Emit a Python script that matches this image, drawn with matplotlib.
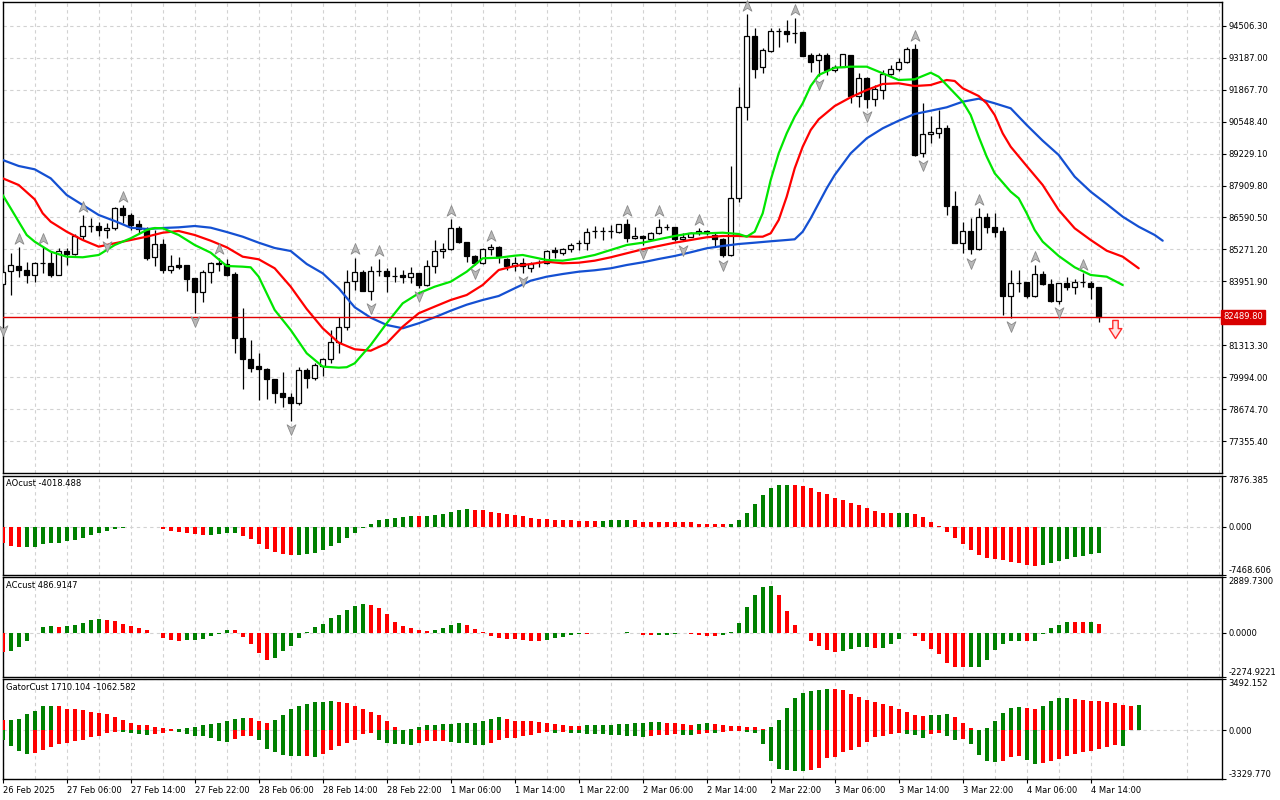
import matplotlib
matplotlib.use('Agg')
import matplotlib.pyplot as plt
import numpy as np
from matplotlib.path import Path
from matplotlib.transforms import offset_copy, blended_transform_factory

plt.rcParams['font.family'] = ['DejaVu Sans']

# ---- price bars (H1) ----
opens = [83849, 84372, 84578, 84414, 84208, 84702, 84702, 84232, 85197, 85099,
         85840, 86227, 86227, 86063, 86145, 86970, 86682, 86310, 86104, 84950,
         85486, 84438, 84620, 84620, 84096, 83506, 84356, 84702, 84661, 84249,
         81610, 80769, 80455, 80357, 79945, 79342, 79177, 78955, 80303, 79960,
         80468, 80756, 81470, 82063, 83973, 84331, 83572, 84397, 84397, 84179,
         84208, 84125, 84290, 83808, 84603, 85197, 85280, 86145, 85568, 85016,
         84702, 85280, 85362, 84880, 84603, 84727, 84496, 84768, 84727, 85251,
         85140, 85280, 85527, 85527, 86046, 86046, 86034, 86000, 86310, 85733,
         85828, 85692, 85939, 86211, 86185, 85692, 85800, 85939, 86046, 85857,
         85704, 85045, 87382, 91160, 94074, 92783, 93467, 94292, 94267, 94210,
         94226, 93290, 93084, 93290, 92672, 92809, 93290, 91612, 92329, 91464,
         91847, 92507, 92700, 93002, 93525, 89263, 90021, 90087, 90268, 87077,
         85552, 86034, 85292, 86598, 86185, 86034, 83354, 83903, 83919, 83354,
         84249, 83837, 83160, 83878, 83713, 83919, 83878, 83727]
highs = [84632, 85115, 85362, 84743, 84743, 85362, 85156, 85333, 85333, 85898,
         86706, 86557, 86417, 86363, 87024, 87106, 86764, 86487, 86211, 86075,
         85692, 85045, 84950, 84620, 84096, 84426, 84768, 84941, 84880, 84356,
         82847, 81540, 80992, 80398, 79945, 80233, 79342, 80439, 80385, 80578,
         80785, 81952, 82501, 84426, 84941, 84426, 84591, 84880, 84496, 84537,
         84426, 84563, 84290, 84838, 85663, 85527, 86516, 86240, 85593, 85045,
         85321, 85498, 85416, 84908, 84975, 84908, 84768, 84838, 85251, 85388,
         85321, 85552, 85663, 86145, 86240, 86211, 86281, 86322, 86528, 86211,
         85869, 86005, 86536, 86322, 86211, 85939, 86005, 86157, 86075, 85939,
         85733, 88694, 91955, 94981, 94391, 93566, 94391, 94391, 94733, 94816,
         94251, 93385, 93385, 93385, 92879, 93319, 93290, 92536, 92396, 92053,
         92672, 92879, 93154, 93633, 93744, 91299, 90775, 91023, 90404, 87695,
         86405, 86557, 86982, 86789, 86789, 86185, 84426, 84426, 83944, 84632,
         84397, 84043, 83903, 84151, 84043, 84302, 83973, 83727]
lows = [82282, 83395, 84125, 83878, 83944, 84290, 84125, 84208, 84632, 85045,
        85663, 86005, 85840, 85745, 86075, 86351, 86075, 85939, 84838, 84591,
        84315, 84315, 84480, 83572, 82666, 83119, 83878, 84372, 84163, 80992,
        79507, 80233, 79066, 79095, 78930, 78790, 78213, 78860, 79561, 79891,
        80056, 80578, 81017, 81952, 83601, 83572, 83189, 84163, 83531, 83944,
        83878, 83878, 83704, 83767, 84315, 84908, 85251, 85527, 84768, 84632,
        84673, 85045, 84727, 84426, 84385, 84315, 84356, 84537, 84673, 84908,
        85045, 85181, 85251, 85251, 85733, 85663, 85733, 85939, 85593, 85692,
        85477, 85663, 85910, 86075, 85634, 85601, 85775, 85869, 85869, 85388,
        84975, 85004, 87242, 90610, 92329, 92560, 93426, 93633, 93839, 93798,
        93249, 92601, 92425, 92466, 92589, 92783, 91300, 91160, 91105, 91188,
        91464, 92466, 92643, 92948, 89127, 89086, 89650, 89855, 86694, 85527,
        85140, 85065, 85251, 85964, 85800, 82571, 82447, 83531, 83259, 83325,
        83808, 83119, 83024, 83601, 83436, 83725, 83218, 82281]
closes = [84356, 84620, 84414, 84208, 84702, 84702, 84208, 85197, 85074, 85840,
          86227, 86227, 86063, 86145, 86970, 86682, 86281, 86104, 84934, 85486,
          84438, 84578, 84550, 84068, 83506, 84356, 84702, 84673, 84232, 81635,
          80769, 80398, 80357, 79945, 79342, 79177, 78955, 80303, 79973, 80509,
          80756, 81470, 82063, 83944, 84331, 83572, 84397, 84397, 84163, 84179,
          84125, 84290, 83808, 84603, 85197, 85280, 86145, 85568, 85016, 84702,
          85280, 85362, 85016, 84603, 84727, 84603, 84673, 84768, 85222, 85169,
          85280, 85457, 85527, 86005, 86046, 86046, 86034, 86310, 85733, 85828,
          85745, 85939, 86211, 86211, 85692, 85800, 85939, 86046, 85939, 85692,
          85045, 87382, 91160, 94074, 92725, 93496, 94292, 94292, 94169, 94210,
          93261, 93015, 93290, 92672, 92809, 93319, 91612, 92329, 91464, 91876,
          92507, 92700, 93002, 93525, 89168, 90021, 90116, 90268, 87077, 85552,
          86034, 85292, 86598, 86185, 86005, 83354, 83878, 83903, 83354, 84249,
          83837, 83160, 83878, 83713, 83919, 83919, 83713, 82489.8]
last_price = 82489.80

# alligator lines (bar, price) incl. their forward shift
jaw = [(0, 88961), (2, 88714), (4, 88577), (6, 88206), (8, 87518), (10, 87106), (12, 86694),
       (14, 86446), (16, 86170), (18, 86116), (20, 86157), (22, 86185), (24, 86240), (26, 86170),
       (28, 85993), (30, 85799), (32, 85552), (34, 85333), (36, 85209), (38, 84673), (40, 84290),
       (42, 83672), (44, 82889), (46, 82460), (48, 82159), (50, 82023), (52, 82229), (54, 82476),
       (56, 82748), (58, 82995), (60, 83189), (62, 83354), (64, 83672), (66, 83985), (68, 84150),
       (70, 84261), (72, 84356), (74, 84414), (76, 84496), (78, 84632), (80, 84743), (82, 84880),
       (84, 85004), (86, 85156), (88, 85321), (90, 85416), (92, 85498), (94, 85552), (96, 85610),
       (98, 85663), (99, 85692), (100, 86005), (101, 86557), (102, 87176), (103, 87794),
       (104, 88343), (106, 89237), (108, 89855), (110, 90268), (112, 90582), (114, 90858),
       (116, 90994), (118, 91134), (120, 91365), (122, 91489), (124, 91299), (126, 91093),
       (128, 90404), (130, 89757), (132, 89168), (134, 88273), (136, 87654), (138, 87147),
       (140, 86623), (142, 86211), (144, 85869), (145, 85634)]
teeth = [(0, 88206), (2, 87930), (4, 87340), (5, 86764), (6, 86417), (8, 86005), (10, 85663),
         (12, 85388), (14, 85527), (16, 85663), (18, 85799), (20, 85964), (22, 86034), (24, 85869),
         (26, 85634), (28, 85362), (30, 84975), (32, 84867), (34, 84496), (36, 83738), (38, 82819),
         (40, 82023), (42, 81429), (44, 81157), (46, 81099), (48, 81404), (50, 82089), (52, 82641),
         (54, 82917), (56, 83189), (58, 83395), (60, 83808), (62, 84426), (64, 84591), (66, 84673),
         (68, 84768), (70, 84702), (72, 84727), (74, 84810), (76, 84950), (78, 85115), (80, 85280),
         (82, 85416), (84, 85552), (86, 85663), (88, 85775), (90, 85828), (92, 85828), (94, 85799),
         (95, 85799), (96, 85939), (97, 86487), (98, 87448), (99, 88618), (100, 89509),
         (101, 90198), (102, 90639), (104, 91188), (106, 91547), (108, 91847), (110, 92095),
         (112, 92124), (114, 92012), (116, 92053), (118, 92260), (119, 92219), (120, 91918),
         (122, 91600), (123, 91299), (124, 90816), (125, 90061), (126, 89509), (128, 88714),
         (130, 87930), (132, 86900), (134, 86145), (136, 85663), (138, 85222), (140, 84975),
         (142, 84496)]
lips = [(0, 87518), (1, 86970), (2, 86417), (3, 85869), (4, 85593), (6, 85181), (8, 84975),
        (10, 84950), (12, 85045), (14, 85457), (16, 85733), (18, 86075), (19, 86157), (20, 86145),
        (22, 85869), (24, 85457), (26, 85140), (28, 84591), (30, 84563), (31, 84537), (32, 84150),
        (34, 82777), (36, 81952), (38, 80992), (40, 80443), (42, 80398), (43, 80418), (44, 80579),
        (46, 81334), (48, 82229), (50, 83053), (52, 83465), (54, 83738), (56, 83944), (58, 84356),
        (60, 84908), (62, 84932), (64, 85016), (65, 85045), (66, 84975), (68, 84838), (70, 84810),
        (72, 84908), (74, 85045), (76, 85251), (78, 85457), (80, 85552), (82, 85692), (84, 85828),
        (86, 85939), (88, 85939), (90, 85964), (92, 85910), (93, 85799), (94, 86005), (95, 86764),
        (96, 88137), (97, 89237), (98, 90061), (99, 90747), (100, 91300), (101, 92012),
        (102, 92466), (104, 92767), (106, 92809), (108, 92809), (110, 92536), (112, 92260),
        (114, 92289), (116, 92560), (117, 92396), (118, 92053), (120, 91365), (121, 90816),
        (122, 89922), (123, 89098), (124, 88412), (126, 87654), (127, 87382), (128, 86764),
        (129, 86075), (130, 85593), (132, 85004), (134, 84537), (136, 84220), (138, 84150),
        (140, 83808)]

fractal_up = [2, 5, 10, 15, 27, 44, 47, 56, 61, 78, 82, 87, 93, 99, 114, 122, 129, 135]
fractal_dn = [0, 13, 24, 36, 46, 52, 59, 65, 80, 85, 90, 102, 108, 115, 121, 126, 132]
signal_bar, signal_price = 139, 81990

ao = [-2480, -2997, -3152, -3140, -3120, -2739, -2583, -2560, -2222, -2067,
      -1705, -1343, -982, -672, -362, -155, -60, -30, -15, -40,
      -310, -672, -827, -1033, -1188, -1343, -1320, -1188, -982, -960,
      -1498, -1963, -2739, -3513, -3927, -4289, -4444, -4420, -4289, -4030,
      -3669, -2997, -2583, -1808, -1033, -258, 362, 1033, 1137, 1395,
      1550, 1653, 1630, 1660, 1808, 1912, 2273, 2584, 2738, 2584,
      2532, 2325, 2170, 2015, 1808, 1653, 1395, 1137, 1120, 982,
      970, 960, 950, 940, 930, 945, 960, 975, 990, 970,
      775, 770, 672, 665, 660, 655, 650, 465, 362, 355,
      350, 465, 982, 2170, 3462, 4857, 5942, 6510, 6530, 6500,
      6355, 5942, 5425, 5012, 4392, 4082, 3720, 3307, 2842, 2428,
      2067, 2050, 2070, 2090, 1912, 1498, 775, 103, -827, -1808,
      -2635, -3669, -4392, -4805, -5064, -5219, -5477, -5684, -5994, -6097,
      -5942, -5684, -5322, -5064, -4702, -4547, -4289, -4018.488]
ac = [-974, -950, -748, -400, -10, 313, 365, 313, 365, 418,
      539, 696, 731, 696, 644, 470, 365, 261, 174, 17,
      -261, -365, -400, -390, -380, -296, -157, -35, 157, 150,
      -191, -574, -1044, -1392, -1305, -922, -661, -261, 35, 313,
      470, 783, 940, 1166, 1392, 1514, 1462, 1305, 992, 574,
      365, 261, 157, 104, 157, 261, 418, 522, 418, 209,
      35, -139, -261, -313, -320, -348, -400, -405, -348, -261,
      -191, -87, -35, -45, -30, -20, -10, 17, 52, 17,
      -87, -122, -115, -87, -80, -20, -52, -87, -139, -145,
      -122, 52, 522, 1357, 1984, 2384, 2453, 1984, 1114, 418,
      -17, -435, -661, -887, -974, -922, -818, -750, -740, -775,
      -760, -574, -296, 17, -139, -435, -818, -1096, -1566, -1757,
      -1792, -1780, -1750, -1392, -870, -574, -435, -400, -435, -425,
      -52, 261, 418, 574, 565, 560, 570, 486.9147]
gator_up = [727, 740, 773, 1114, 1341, 1682, 1690, 1637, 1477, 1455,
            1409, 1250, 1205, 1137, 909, 705, 500, 386, 380, 227,
            159, 91, 114, 159, 227, 386, 455, 523, 659, 773,
            841, 818, 659, 523, 727, 1068, 1477, 1682, 1796, 1932,
            1940, 2023, 1932, 1864, 1637, 1455, 1250, 1023, 659, 227,
            45, 114, 227, 341, 386, 409, 455, 477, 500, 523,
            659, 773, 909, 773, 659, 650, 614, 568, 500, 432,
            386, 318, 310, 341, 386, 390, 395, 455, 460, 500,
            505, 568, 591, 523, 500, 455, 386, 455, 477, 432,
            341, 318, 295, 250, 205, 114, 227, 727, 1523, 2205,
            2546, 2705, 2773, 2818, 2810, 2728, 2500, 2273, 2046, 1932,
            1796, 1682, 1455, 1250, 1068, 1000, 1023, 1068, 1137, 909,
            500, 159, 45, 159, 659, 1182, 1523, 1591, 1523, 1455,
            1682, 2023, 2205, 2228, 2137, 2046, 2023, 1978, 1932, 1864,
            1705, 1682, 1710.104]
gator_dn = [-682, -1091, -1432, -1614, -1568, -1318, -1159, -932, -864, -750,
            -636, -477, -409, -182, -114, -130, -180, -250, -341, -250,
            -182, -68, -136, -250, -409, -420, -523, -750, -818, -591,
            -409, -364, -682, -1250, -1500, -1705, -1773, -1790, -1773, -1841,
            -1614, -1318, -1091, -864, -636, -250, -182, -682, -864, -932,
            -950, -970, -864, -750, -730, -710, -818, -840, -886, -977,
            -1023, -864, -636, -523, -500, -409, -295, -182, -136, -160,
            -114, -182, -205, -227, -250, -273, -295, -341, -364, -409,
            -477, -409, -341, -295, -250, -295, -341, -250, -182, -205,
            -114, -68, -45, -91, -205, -932, -2068, -2660, -2682, -2750,
            -2773, -2682, -2568, -1887, -1841, -1500, -1364, -1159, -818, -455,
            -364, -250, -205, -227, -341, -523, -250, -205, -409, -636,
            -600, -932, -1659, -2114, -2182, -2068, -1841, -1773, -2000, -2296,
            -2228, -2114, -1932, -1773, -1614, -1477, -1386, -1250, -1136, -1023,
            -1062.582]

price_ticks = [94506.30, 93187.00, 91867.70, 90548.40, 89229.10, 87909.80, 86590.50,
               85271.20, 83951.90, 82632.60, 81313.30, 79994.00, 78674.70, 77355.40]
ao_range = (-7468.606, 7876.385)
ac_range = (-2274.9221, 2889.7300)
gator_range = (-3329.770, 3492.152)
time_labels = ['26 Feb 2025', '27 Feb 06:00', '27 Feb 14:00', '27 Feb 22:00', '28 Feb 06:00',
               '28 Feb 14:00', '28 Feb 22:00', '1 Mar 06:00', '1 Mar 14:00', '1 Mar 22:00',
               '2 Mar 06:00', '2 Mar 14:00', '2 Mar 22:00', '3 Mar 06:00', '3 Mar 14:00',
               '3 Mar 22:00', '4 Mar 06:00', '4 Mar 14:00']

GREEN = '#008000'
RED = '#ff0000'
GRID = '#d2d2d2'
FS = 6

fig = plt.figure(figsize=(12.8, 8), dpi=100)


def panel(top, bottom, left=2.7, right=1221.7):
    return fig.add_axes([left / 1280, 1 - bottom / 800, (right - left) / 1280, (bottom - top) / 800])


ax = panel(2, 472.7)
ax_ao = panel(476, 574.7)
ax_ac = panel(577.3, 676.7)
ax_gt = panel(679.3, 779)

XMAX = 152.375
for a in (ax, ax_ao, ax_ac, ax_gt):
    a.set_xlim(0, XMAX)
    a.set_xticks(range(0, 153, 4))
    a.tick_params(axis='x', length=0, labelbottom=False)
    a.grid(True, color=GRID, ls=(0, (3, 3)), lw=0.8)
    a.set_axisbelow(True)
    a.yaxis.tick_right()
    a.tick_params(axis='y', direction='out', length=3, width=0.8, labelsize=FS, pad=2)
    for s in a.spines.values():
        s.set_color('black')
        s.set_linewidth(1)

# ---- main price window ----
ax.set_ylim(76068, 95476)
ax.set_yticks(price_ticks)
# the level next to the current price sits under its red box, so no text there
ax.set_yticklabels(['' if abs(v - last_price) < 400 else '%.2f' % v for v in price_ticks])

x = np.arange(len(opens))
o = np.array(opens, float)
h = np.array(highs, float)
l = np.array(lows, float)
c = np.array(closes, float)
bull = c >= o
ax.vlines(x, l, h, color='black', lw=0.9, zorder=3)
ax.bar(x[bull], (c - o)[bull], bottom=o[bull], width=0.58, color='white',
       edgecolor='black', linewidth=0.9, zorder=4)
ax.bar(x[~bull], (o - c)[~bull], bottom=c[~bull], width=0.58, color='black',
       edgecolor='black', linewidth=0.9, zorder=4)

for line, col in ((jaw, '#1450d2'), (teeth, '#ff0000'), (lips, '#00e600')):
    bx, by = zip(*line)
    ax.plot(bx, by, color=col, lw=1.6, zorder=5, solid_capstyle='round')

ax.axhline(last_price, color='#e00000', lw=1, zorder=6)

arrow_up = Path([(0, 1), (0.75, -0.8), (0, -0.3), (-0.75, -0.8), (0, 1)],
                [Path.MOVETO, Path.LINETO, Path.LINETO, Path.LINETO, Path.CLOSEPOLY])
arrow_dn = Path([(0, -1), (0.75, 0.8), (0, 0.3), (-0.75, 0.8), (0, -1)],
                [Path.MOVETO, Path.LINETO, Path.LINETO, Path.LINETO, Path.CLOSEPOLY])
t_up = offset_copy(ax.transData, fig=fig, x=0, y=5.8, units='points')
t_dn = offset_copy(ax.transData, fig=fig, x=0, y=-5.8, units='points')
ax.plot(fractal_up, h[fractal_up], ls='none', marker=arrow_up, ms=8.5, mfc='#b8b8b8',
        mec='#8a8a8a', mew=0.6, transform=t_up, zorder=7, clip_on=False)
ax.plot(fractal_dn, l[fractal_dn], ls='none', marker=arrow_dn, ms=8.5, mfc='#b8b8b8',
        mec='#8a8a8a', mew=0.6, transform=t_dn, zorder=7, clip_on=False)

sig = Path([(-0.3, 1), (0.3, 1), (0.3, 0.1), (0.7, 0.1), (0, -1), (-0.7, 0.1), (-0.3, 0.1), (-0.3, 1)],
           [Path.MOVETO] + [Path.LINETO] * 6 + [Path.CLOSEPOLY])
ax.plot([signal_bar], [signal_price], ls='none', marker=sig, ms=13, mfc='#ffe4e4',
        mec='#ff2a2a', mew=1.0, zorder=8)

bt = blended_transform_factory(ax.transAxes, ax.transData)
ax.text(1.0012, last_price, '%.2f' % last_price, transform=bt, ha='left', va='center',
        color='white', fontsize=FS, zorder=10, clip_on=False,
        bbox=dict(boxstyle='square,pad=0.28', fc='#d80000', ec='#d80000'))


# ---- oscillator windows ----
def hist_colors(vals, first, use_abs=False):
    v = np.abs(vals) if use_abs else np.array(vals, float)
    cols = [first]
    for i in range(1, len(v)):
        cols.append(GREEN if v[i] > v[i - 1] else RED)
    return cols


def set_scale(a, rng, fmt):
    lo, hi = rng
    a.set_ylim(lo, hi)
    a.set_yticks([lo, 0, hi])
    a.set_yticklabels([fmt % lo, fmt % 0, fmt % hi])
    labs = a.get_yticklabels()
    labs[0].set_va('bottom')
    labs[2].set_va('top')


ax_ao.bar(np.arange(len(ao)), ao, width=0.5, color=hist_colors(ao, RED), linewidth=0, zorder=3)
set_scale(ax_ao, ao_range, '%.3f')
ax_ao.text(0.0025, 0.92, 'AOcust %.3f' % ao[-1], transform=ax_ao.transAxes,
           fontsize=FS, va='center', ha='left')

ax_ac.bar(np.arange(len(ac)), ac, width=0.5, color=hist_colors(ac, RED), linewidth=0, zorder=3)
set_scale(ax_ac, ac_range, '%.4f')
ax_ac.text(0.0025, 0.92, 'ACcust %.4f' % ac[-1], transform=ax_ac.transAxes,
           fontsize=FS, va='center', ha='left')

ax_gt.bar(np.arange(len(gator_up)), gator_up, width=0.55,
          color=hist_colors(gator_up, RED, True), linewidth=0, zorder=3)
ax_gt.bar(np.arange(len(gator_dn)), gator_dn, width=0.55,
          color=hist_colors(gator_dn, GREEN, True), linewidth=0, zorder=3)
set_scale(ax_gt, gator_range, '%.3f')
ax_gt.text(0.0025, 0.92, 'GatorCust %.3f %.3f' % (gator_up[-1], gator_dn[-1]),
           transform=ax_gt.transAxes, fontsize=FS, va='center', ha='left')

ax_gt.set_xticks(range(0, 8 * len(time_labels), 8))
ax_gt.set_xticks(range(4, 153, 8), minor=True)
ax_gt.set_xticklabels(time_labels)
ax_gt.tick_params(axis='x', which='major', length=3, width=0.8, labelbottom=True,
                  labelsize=FS, pad=2)
ax_gt.tick_params(axis='x', which='minor', length=0)
ax_gt.grid(True, which='both', axis='x', color=GRID, ls=(0, (3, 3)), lw=0.8)
for lbl in ax_gt.get_xticklabels():
    lbl.set_horizontalalignment('left')

fig.savefig('out.png', dpi=100, facecolor='white')
